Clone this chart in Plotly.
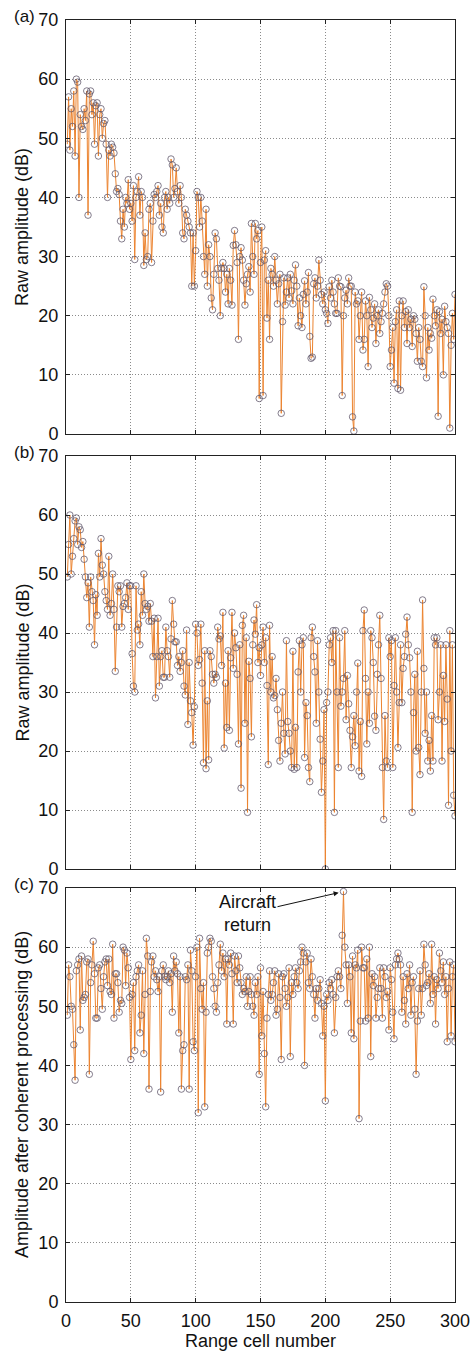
import plotly.graph_objects as go

cells = list(range(1, 301))

panel_a = [
    49, 57, 48, 55, 52, 58, 47, 60, 59.5, 40,
    54, 52, 51.5, 55, 53, 58, 37, 57.5, 58, 54,
    56, 49, 55.5, 56, 47, 54, 55, 50, 52.5, 53,
    49, 40, 48, 47, 49, 48.5, 47.5, 44, 41, 41.5,
    40.5, 36, 33, 38, 35, 40, 39, 43, 38, 39,
    36, 42, 29.5, 40, 41, 43.5, 37, 41, 40, 28.5,
    34, 29.5, 30, 38, 39, 29, 36, 40.5, 40, 41,
    42, 37, 39, 35, 34, 40, 41, 38, 40, 39,
    46.5, 45.5, 40, 41.5, 45, 41, 39, 42, 40, 34,
    33, 38, 37, 36, 35, 34, 25, 34, 25, 31,
    41, 40, 35, 40, 36, 30, 27, 38, 25, 32,
    30, 23, 21, 27, 34, 33, 28, 26, 20, 28,
    29, 28, 24, 27, 22, 28, 26, 21.8, 31.9, 34.4,
    32, 29, 16, 30, 31.5, 29.4, 26, 21.8, 25.4, 27,
    28.3, 24, 35.6, 30, 27, 35.6, 33, 34.4, 6, 29,
    35, 6.5, 29.4, 31, 19.6, 26, 16, 28, 27, 25,
    30, 26, 22, 25.4, 27, 3.5, 19, 26.4, 21.8, 24,
    26.4, 23, 27, 24.2, 22, 26, 28.6, 25, 18.3, 23,
    20, 18, 23.6, 25.9, 22, 24, 27.3, 16.5, 12.8, 13,
    25.4, 26.4, 23, 25, 29.4, 26, 23.6, 22, 24, 21,
    20.4, 18.7, 24.9, 23, 26, 24, 22, 20.4, 20.4, 26.4,
    25, 24.9, 6.5, 20, 23, 24.3, 22, 26.4, 25, 25,
    2.9, 0.5, 24, 22, 22.5, 16, 20, 24, 14.2, 16,
    22.5, 20, 11.4, 23.1, 21, 18, 19.6, 22, 15.3, 20,
    21, 17, 19, 20.4, 22, 24, 25.4, 25, 20, 11.4,
    14.2, 18, 8.6, 19, 21, 7.7, 22.5, 7.4, 20, 22.5,
    18, 20.7, 15.3, 21, 18, 19.4, 14.8, 20, 19.4, 17,
    12.3, 18, 16, 12.3, 11.4, 24.9, 20, 9.5, 18, 14.2,
    17, 16.2, 22.8, 20, 18.3, 21, 3, 20.7, 17, 19.4,
    10, 21.6, 19, 18, 17, 1, 15, 20.4, 16, 23.6,
]

panel_b = [
    49.5, 55, 60, 50, 53, 56, 59, 59.5, 55, 58,
    57.5, 54.5, 55.5, 52.5, 49.5, 46, 48.5, 41, 49.5, 47,
    45.5, 38, 46.5, 43, 53.5, 49.5, 56, 51.5, 50, 47,
    45.5, 44, 53, 43, 45, 50, 44, 33.5, 41, 48,
    47, 48, 41, 44.5, 45, 46, 48.5, 44, 48, 48,
    36.5, 31, 30, 48, 40.5, 41.5, 38, 47, 43, 50,
    45, 44, 44.5, 42, 45, 42, 36, 42.5, 29, 36,
    42.5, 31, 36, 37, 32.5, 32.5, 41, 37, 36, 32.5,
    39, 45.5, 41.5, 38.5, 38.5, 34.5, 36, 33.5, 35, 37,
    31, 29.5, 40.5, 24.5, 35, 28.5, 26.5, 21, 27.5, 41.5,
    40, 34.5, 35.5, 41.5, 31.5, 18, 37, 17, 28.5, 18.5,
    37, 36, 33, 31.5, 33, 32.5, 41, 39, 39.5, 34.5,
    43.5, 20.5, 31.5, 24, 37, 23.5, 35.8, 43.5, 34, 40,
    37.5, 33, 21.2, 38, 13.7, 41.3, 43, 24.7, 39.2, 9.6,
    35.2, 32.3, 22.4, 38, 42.2, 39.8, 44.8, 35, 37.5, 32.8,
    38, 41, 35, 39.2, 31.1, 17.7, 41.3, 30, 36, 29,
    29.4, 32.3, 27, 21.8, 18.3, 24.7, 30, 23, 19.5, 38.7,
    25, 23, 20, 17.2, 36.9, 16.9, 24, 17.2, 33.4, 38.7,
    30, 38, 39.2, 18.9, 28.2, 26, 17.2, 14.8, 39.2, 41,
    36, 33.4, 24.7, 38.7, 30, 22, 13, 18.3, 27, 0,
    28.2, 30, 38, 39.2, 35, 40.4, 9.6, 40.4, 30, 17.2,
    39.2, 27.6, 30, 32.3, 40.4, 25.3, 32.8, 28, 23.5, 17.2,
    22.4, 26, 20.9, 30, 34.9, 16.6, 25, 15.7, 40.4, 43.9,
    32.3, 21.2, 30, 24.7, 40.4, 39.2, 35, 25.9, 23.5, 33,
    38, 43, 32.3, 17.2, 8.4, 26, 18.3, 17.2, 39.2, 36,
    38.7, 17.2, 31.1, 39.2, 30, 20.6, 28.2, 38, 28.2, 34,
    36, 39.8, 42.7, 38, 35.8, 30, 9.6, 26.5, 33, 20,
    36.9, 20.6, 16, 30, 45.6, 34, 23, 30, 18.3, 21.8,
    16.6, 26, 18.3, 39.2, 38, 39.2, 25.3, 30, 38, 18.3,
    32.8, 25, 38, 28.8, 10.8, 40.4, 20, 38, 12.5, 9,
]

panel_c = [
    48.5, 57, 55, 50, 49.5, 43.5, 37.5, 56, 57, 58,
    46, 58.5, 51, 51.5, 52, 57.5, 58, 38.5, 54, 57,
    61, 55.5, 48, 48, 56.5, 57, 53, 49.5, 55, 57.5,
    58, 53.5, 58, 52.5, 52, 60.5, 48, 55.5, 55.5, 54,
    49, 51, 50.5, 60, 59.5, 53.5, 59, 56.5, 51.5, 41,
    52, 54, 42.5, 55, 56, 57, 45.5, 48.5, 56, 42,
    52, 61.5, 58.5, 36, 52.5, 57.5, 58.5, 55, 56, 54.5,
    52.5, 55, 35.5, 56, 57, 55, 54.5, 55, 56, 54,
    55.5, 49, 58.5, 56, 57.5, 55.5, 45.5, 55, 36, 42.5,
    43.5, 55, 54.5, 57, 36, 59.5, 56, 44, 42.5, 55,
    60, 32, 61.5, 53, 49.5, 54, 33, 49, 59, 60,
    61.5, 61, 55, 53, 50, 49, 54, 57, 60.5, 56,
    59, 55, 58, 47, 58, 57, 59, 55.5, 47, 58.5,
    56, 54, 58.5, 56.5, 54, 52, 53, 52.5, 55, 50,
    52.5, 55, 52, 50, 48.5, 54, 52, 55, 38.5, 56.5,
    45, 52.5, 42, 33, 48, 52, 56, 51, 52, 54,
    56, 48.5, 49.5, 55.5, 51.5, 41, 55, 55.5, 53, 50,
    51.5, 56.5, 41.5, 54, 52, 55, 56.5, 54, 53, 56,
    57.5, 60, 59, 40, 57.5, 59, 54, 53, 58, 55,
    52, 48, 53, 51, 53, 54.5, 50.5, 45, 50, 34,
    52, 51, 54, 53, 54.5, 52, 45.5, 51.5, 55, 56,
    55, 53, 62, 69.4, 60, 57, 50.5, 57, 55, 45.5,
    58.5, 44.5, 57, 56.5, 59.5, 31, 47.5, 60, 56.5, 56.5,
    47.5, 58, 48, 60, 41.5, 55.5, 53.5, 55, 48, 51.5,
    53, 56.5, 53, 48, 56.5, 55, 51.5, 52.5, 46, 56.5,
    54.5, 49, 44.5, 57, 58, 59, 58, 57, 49, 55,
    51, 47, 55.5, 53, 57, 48.5, 54, 55, 49.5, 38.5,
    47.5, 53, 56, 48.5, 53, 60.5, 57, 53.5, 54, 55.5,
    50.5, 60.5, 52, 55, 47, 54.5, 53, 59, 56, 54,
    57.5, 52, 55, 44, 53, 57.5, 45, 55, 57, 44,
]

x_ticks = [0, 50, 100, 150, 200, 250, 300]
y_ticks = [0, 10, 20, 30, 40, 50, 60, 70]
panel_labels = ["(a)", "(b)", "(c)"]
y_titles = ["Raw amplitude (dB)", "Raw amplitude (dB)",
            "Amplitude after coherent processing (dB)"]
x_title = "Range cell number"

LINE = "rgb(236,132,48)"
MARK = "rgba(95,85,105,0.85)"
FONT = "Liberation Sans, Arial, sans-serif"

fig = go.Figure()
series = [panel_a, panel_b, panel_c]
for i, ys in enumerate(series):
    sfx = "" if i == 0 else str(i + 1)
    fig.add_trace(go.Scatter(
        x=cells, y=ys, mode="lines+markers",
        line=dict(color=LINE, width=1),
        marker=dict(symbol="circle-open", size=6.5,
                    color=MARK, line=dict(width=0.9, color=MARK)),
        xaxis="x" + sfx, yaxis="y" + sfx, showlegend=False,
        hoverinfo="skip",
    ))

W, H = 475, 1353
ML, MR, MT, MB = 66, 20, 20, 51
ph = H - MT - MB

def frac(py):
    return (H - MB - py) / ph

domains = [(frac(434), frac(20)), (frac(869), frac(456)), (frac(1302), frac(888))]

axis_common = dict(
    showline=True, linecolor="#222", linewidth=1, mirror="allticks",
    ticks="inside", ticklen=4, tickcolor="#222",
    showgrid=True, gridcolor="rgba(110,110,110,0.8)", griddash="1px,2px", gridwidth=1,
    zeroline=False, automargin=False,
    tickfont=dict(family=FONT, size=18, color="#111"),
)

layout = dict(
    width=W, height=H,
    margin=dict(l=ML, r=MR, t=MT, b=MB, autoexpand=False),
    paper_bgcolor="white", plot_bgcolor="white",
    font=dict(family=FONT, color="#111"),
    annotations=[],
)

for i in range(3):
    sfx = "" if i == 0 else str(i + 1)
    layout["xaxis" + sfx] = dict(
        axis_common, domain=[0, 1], range=[0, 300], tickvals=x_ticks,
        showticklabels=(i == 2), anchor="y" + sfx,
        ticklabelstandoff=2,
        title=dict(text=x_title if i == 2 else "", font=dict(family=FONT, size=18),
                   standoff=2),
    )
    layout["yaxis" + sfx] = dict(
        axis_common, domain=list(domains[i]), range=[0, 70], tickvals=y_ticks,
        anchor="x" + sfx, ticklabelstandoff=3,
    )
    mid = (domains[i][0] + domains[i][1]) / 2
    layout["annotations"].append(dict(
        text=y_titles[i], textangle=-90, xref="paper", yref="paper",
        x=0, y=mid, xanchor="center", yanchor="middle", xshift=-44,
        showarrow=False, font=dict(family=FONT, size=18, color="#111"),
    ))
    layout["annotations"].append(dict(
        text=panel_labels[i], xref="paper", yref="paper",
        x=0, y=domains[i][1], xanchor="left", yanchor="middle",
        xshift=-54, yshift=4, showarrow=False,
        font=dict(family=FONT, size=17, color="#111"),
    ))

peak_idx = panel_c.index(max(panel_c))
layout["annotations"].append(dict(
    text="Aircraft<br>return", x=cells[peak_idx], y=panel_c[peak_idx],
    xref="x3", yref="y3", showarrow=True, arrowhead=2, arrowsize=1,
    arrowwidth=1, arrowcolor="#111", ax=-96, ay=22, standoff=5,
    font=dict(family=FONT, size=18, color="#111"), align="center",
    bgcolor="rgba(255,255,255,0)",
))

fig.update_layout(**layout)
fig.write_html(
    "out.html",
    config={"displayModeBar": False},
    post_script="document.body.style.margin='0';document.body.style.padding='0';",
)
